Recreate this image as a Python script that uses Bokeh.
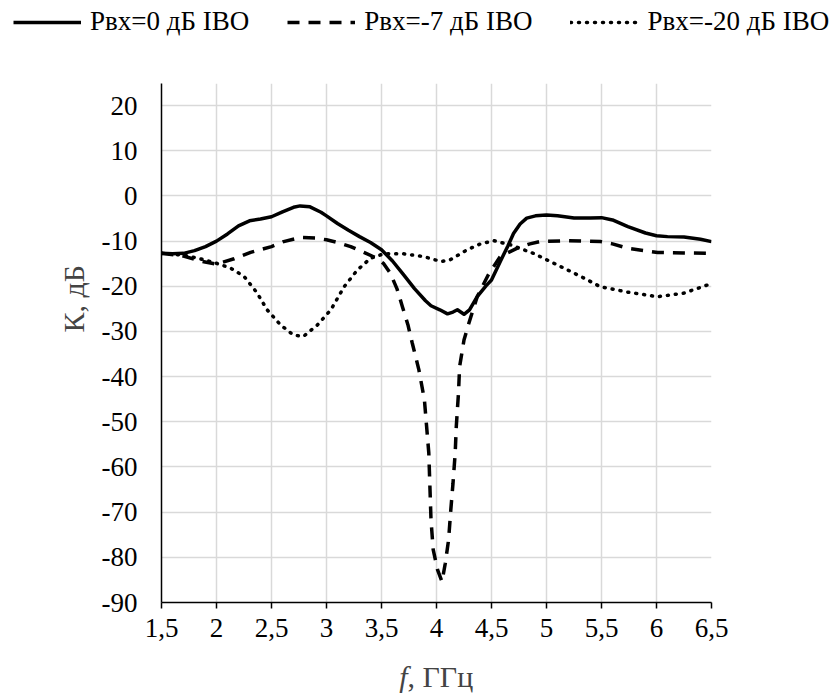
from bokeh.plotting import figure
from bokeh.layouts import column, row
from bokeh.models import (Range1d, FixedTicker, CustomJSTickFormatter, Legend, LegendItem, Label)
from bokeh.embed import file_html
from bokeh.resources import INLINE
import math

# ---------------- data ----------------
f_p0 = [1.5, 1.6, 1.7, 1.8, 1.9, 2.0, 2.1, 2.2, 2.3, 2.4, 2.5, 2.6, 2.7, 2.76, 2.85, 2.95, 3.0,
        3.1, 3.2, 3.3, 3.4, 3.5, 3.6, 3.7, 3.8, 3.9, 3.95, 4.03, 4.1, 4.15, 4.19, 4.25, 4.3,
        4.37, 4.45, 4.5, 4.58, 4.65, 4.7, 4.76, 4.82, 4.9, 5.0, 5.1, 5.25, 5.4, 5.5, 5.6,
        5.74, 5.9, 6.0, 6.1, 6.25, 6.4, 6.5]
k_p0 = [-12.7, -12.8, -12.7, -12.1, -11.2, -10.0, -8.4, -6.6, -5.5, -5.1, -4.6, -3.5, -2.5, -2.2,
        -2.4, -3.6, -4.4, -6.1, -7.6, -9.0, -10.3, -11.9, -14.4, -17.4, -20.5, -23.2, -24.3,
        -25.2, -26.1, -25.7, -25.2, -26.2, -25.2, -22.3, -19.9, -18.6, -14.5, -11.0, -8.3,
        -6.2, -4.9, -4.4, -4.2, -4.4, -4.9, -4.9, -4.8, -5.3, -6.8, -8.2, -8.8, -9.0, -9.1,
        -9.6, -10.1]

f_p7 = [1.5, 1.7, 1.85, 2.0, 2.16, 2.31, 2.5, 2.61, 2.76, 2.9, 3.0, 3.1, 3.22, 3.34, 3.46,
        3.52, 3.58, 3.64, 3.69, 3.74, 3.78, 3.84, 3.89, 3.91, 3.93, 3.94, 3.95, 3.97, 4.01,
        4.05, 4.08, 4.11, 4.13, 4.15, 4.17, 4.18, 4.20, 4.21, 4.25, 4.29, 4.37, 4.47, 4.58,
        4.73, 4.85, 4.94, 5.19, 5.49, 5.6, 5.74, 6.01, 6.25, 6.5]
k_p7 = [-12.7, -13.3, -14.4, -15.1, -13.9, -12.5, -11.2, -10.1, -9.2, -9.3, -9.7, -10.3, -11.2,
        -12.5, -13.8, -15.0, -17.1, -20.5, -24.5, -28.5, -32.6, -38.5, -45.1, -51.0, -56.9,
        -64.3, -71.7, -78.3, -82.8, -85.4, -81.3, -76.1, -69.5, -63.6, -56.9, -51.0, -43.6,
        -37.8, -31.9, -28.5, -22.3, -17.5, -13.4, -11.6, -10.6, -10.1, -9.9, -10.1, -10.6,
        -11.6, -12.5, -12.6, -12.7]

f_p20 = [1.5, 1.7, 1.85, 2.0, 2.13, 2.25, 2.37, 2.46, 2.58, 2.70, 2.79, 2.92, 3.04, 3.16, 3.28,
         3.40, 3.52, 3.70, 3.88, 4.04, 4.12, 4.28, 4.4, 4.52, 4.67, 4.88, 5.10, 5.31, 5.49,
         5.74, 6.01, 6.25, 6.5]
k_p20 = [-12.7, -13.1, -13.9, -14.9, -16.0, -17.8, -21.5, -25.2, -28.5, -30.8, -31.1, -28.5,
         -25.2, -20.1, -16.4, -13.8, -12.8, -12.8, -13.4, -14.5, -14.2, -11.9, -10.6, -9.9,
         -10.8, -12.7, -15.3, -17.8, -20.1, -21.3, -22.3, -21.5, -19.4]

series_names = ["Рвх=0 дБ IBO", "Рвх=-7 дБ IBO", "Рвх=-20 дБ IBO"]
x_ticks = [1.5, 2.0, 2.5, 3.0, 3.5, 4.0, 4.5, 5.0, 5.5, 6.0, 6.5]
y_ticks = [-90, -80, -70, -60, -50, -40, -30, -20, -10, 0, 10, 20]
x_title_italic = "f"
x_title_rest = ", ГГц"
y_title = "К, дБ"

FONT = "Liberation Serif"
SOLID = dict(line_color="black", line_width=3.5, line_join="round")
DASHED = dict(line_color="black", line_width=3.5, line_dash="12 9")
DOTTED = dict(line_color="black", line_width=3.5, line_dash="1 7", line_cap="round")


def blank(w, h):
    f = figure(width=w, height=h, output_backend="svg", toolbar_location=None, title=None,
               x_axis_type=None, y_axis_type=None,
               x_range=Range1d(0, w), y_range=Range1d(h, 0),
               min_border=0, min_border_left=0, min_border_right=0,
               min_border_top=0, min_border_bottom=0)
    f.outline_line_color = None
    f.grid.visible = False
    return f


# ---------------- legend strip ----------------
# the series are drawn here as well, outside this strip's visible range: they only act as legend keys
top = blank(831, 45)
l0 = top.line(f_p0, k_p0, **SOLID)
l7 = top.line(f_p7, k_p7, **DASHED)
l20 = top.line(f_p20, k_p20, **DOTTED)
legend = Legend(items=[LegendItem(label=series_names[0], renderers=[l0]),
                       LegendItem(label=series_names[1], renderers=[l7]),
                       LegendItem(label=series_names[2], renderers=[l20])],
                orientation="horizontal", location=(13, 8),
                glyph_width=68, glyph_height=20, label_standoff=9, spacing=38,
                padding=0, margin=0, border_line_color=None, background_fill_alpha=0,
                label_text_font=FONT, label_text_font_size="27px", label_text_color="black",
                label_height=20)
top.add_layout(legend)

# ---------------- y title strip ----------------
left = blank(90, 610)
left.add_layout(Label(x=73, y=253, text=y_title, text_font=FONT, text_font_size="30px",
                      angle=math.pi / 2, text_align="center", text_baseline="middle"))

# ---------------- main plot ----------------
p = figure(width=741, height=610, output_backend="svg", toolbar_location=None, title=None,
           x_range=Range1d(1.5, 6.5), y_range=Range1d(-90, 24.9),
           min_border_left=71, min_border_right=120, min_border_top=38, min_border_bottom=53)
p.outline_line_color = None

for ax in (p.xaxis, p.yaxis):
    ax.axis_line_color = "black"
    ax.axis_line_width = 1.5
    ax.major_label_text_font = FONT
    ax.major_label_text_font_size = "27px"
    ax.major_label_text_color = "black"
    ax.minor_tick_line_color = None
    ax.major_tick_in = 0

p.xaxis.ticker = FixedTicker(ticks=x_ticks)
p.yaxis.ticker = FixedTicker(ticks=y_ticks)
p.xaxis.formatter = CustomJSTickFormatter(code="return String(tick).replace('.', ',');")
p.yaxis.formatter = CustomJSTickFormatter(code="return String(tick);")
p.xaxis.major_tick_out = 6
p.xaxis.major_tick_line_width = 1.5
p.xaxis.major_label_standoff = 10
p.yaxis.major_tick_out = 0
p.yaxis.major_tick_line_color = None
p.yaxis.major_label_standoff = 24

p.xgrid.ticker = FixedTicker(ticks=x_ticks)
p.ygrid.ticker = FixedTicker(ticks=y_ticks)
for g in (p.xgrid, p.ygrid):
    g.grid_line_color = "#d9d9d9"
    g.grid_line_width = 1.5

p.line(f_p0, k_p0, **SOLID)
p.line(f_p7, k_p7, **DASHED)
p.line(f_p20, k_p20, **DOTTED)

# ---------------- x title strip ----------------
bottom = blank(831, 40)
bottom.add_layout(Label(x=407, y=21, text=x_title_italic, text_font=FONT, text_font_size="30px",
                        text_font_style="italic", text_align="right", text_baseline="middle"))
bottom.add_layout(Label(x=407, y=21, text=x_title_rest, text_font=FONT, text_font_size="30px",
                        text_align="left", text_baseline="middle"))

layout = column(top, row(left, p, spacing=0), bottom, spacing=0)
open("out.html", "w").write(file_html(layout, INLINE))
